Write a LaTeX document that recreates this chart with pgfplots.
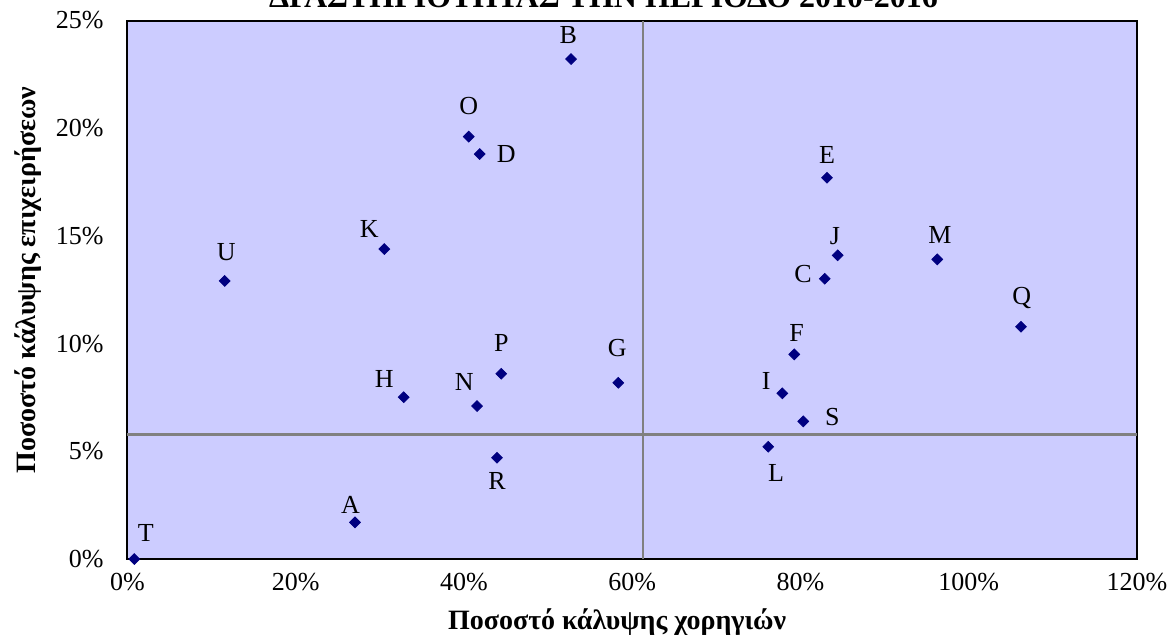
\documentclass[border=0pt]{standalone}
\usepackage{pgfplots}
\pgfplotsset{compat=1.18}
\usepackage{pgfplotstable}
\usepackage{fontspec}
\setmainfont{Liberation Serif}
\definecolor{plotbg}{HTML}{CCCCFF}
\definecolor{navy}{HTML}{000080}
\definecolor{refgray}{HTML}{808080}

\pgfplotstableread{
x      y      lab dx     dy
0.81   0.00   T   5.75   12.9
27.04  1.70   A   -2.25  8.65
11.55  12.91  U   0.75   14.25
30.53  14.39  K   -7.5   10
32.83  7.51   H   -9.75  9.05
40.56  19.61  O   0      15.5
41.87  18.80  D   13.25  0
52.72  23.21  B   -1.35  12.15
44.43  8.60   P   0      15.6
41.55  7.10   N   -6.4   11.9
58.34  8.18   G   -0.5   17.6
43.92  4.70   R   0      -11.75
83.15  17.70  E   0      11.5
84.42  14.10  J   -1.35  9.55
96.26  13.91  M   1.35   12.15
82.88  13.01  C   -10.85 2.25
106.21 10.78  Q   0.35   14.6
79.26  9.50   F   1.15   10.65
77.84  7.69   I   -8     6.25
80.33  6.39   S   14.6   2.05
76.17  5.21   L   3.85   -13.15
}\pointdata

\begin{document}
\begin{tikzpicture}
\path[use as bounding box] (-63.75pt,-39.5pt) rectangle (523.75pt,279.5pt);
\begin{axis}[
  at={(0,0)}, anchor=south west,
  scale only axis,
  width=504.75pt, height=269.25pt,
  xmin=0, xmax=120, ymin=0, ymax=25,
  xtick={0,20,...,120}, ytick={0,5,...,25},
  xticklabel={\pgfmathprintnumber{\tick}\%},
  yticklabel={\pgfmathprintnumber{\tick}\%},
  /pgf/number format/assume math mode=true,
  major tick length=0pt,
  tick label style={font=\fontsize{13}{15}\selectfont},
  axis background/.style={fill=plotbg},
  axis line style={line width=1pt, black},
  clip=false,
  xlabel={\textbf{Ποσοστό κάλυψης χορηγιών}},
  ylabel={\textbf{Ποσοστό κάλυψης επιχειρήσεων}},
  label style={font=\fontsize{14}{16}\selectfont},
  xlabel style={at={(axis description cs:0.485,0)}, anchor=base, yshift=-35pt},
  ylabel style={at={(axis description cs:-0.0986,0.518)}, anchor=center},
  xticklabel style={yshift=-3.5pt},
  yticklabel style={xshift=-8.5pt},
]
\addplot[refgray, line width=1.1pt] coordinates {(61.31,0) (61.31,25)};
\addplot[refgray, line width=1.1pt] coordinates {(0,5.78) (120,5.78)};
\addplot[
  only marks, mark=square*, mark size=1.9pt,
  mark options={rotate=45, fill=navy, draw=navy},
  point meta=explicit symbolic,
  nodes near coords,
  visualization depends on={\thisrow{dx}\as\ldx},
  visualization depends on={\thisrow{dy}\as\ldy},
  every node near coord/.style={anchor=center, inner sep=0pt, black,
    font=\fontsize{13}{15}\selectfont, xshift=\ldx pt, yshift=\ldy pt},
] table[x=x, y=y, meta=lab] {\pointdata};
\end{axis}
\node[anchor=base, font=\bfseries\fontsize{16}{18}\selectfont] at (238pt,275.5pt) {ΔΡΑΣΤΗΡΙΟΤΗΤΑΣ ΤΗΝ ΠΕΡΙΟΔΟ 2010-2016};
\end{tikzpicture}
\end{document}
